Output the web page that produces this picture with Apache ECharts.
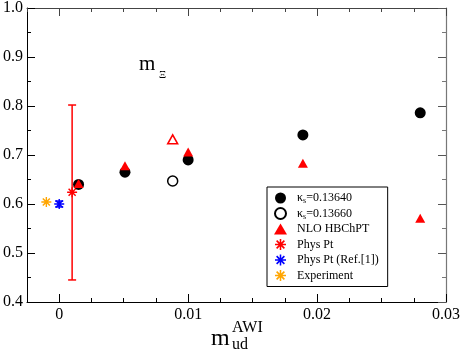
<!DOCTYPE html>
<html>
<head>
<meta charset="utf-8">
<title>m_Xi vs m_ud</title>
<script src="https://cdn.jsdelivr.net/npm/echarts@6/dist/echarts.min.js"></script>
<style>
  html, body { margin: 0; padding: 0; background: #fff; }
  #chart { width: 463px; height: 353px; }
</style>
</head>
<body>
<div id="chart"></div>
<script>
// data: [m_ud, m_Xi]
const kappa13640 = [[0.0015, 0.640], [0.0051, 0.665], [0.0100, 0.690], [0.0189, 0.741], [0.0280, 0.786]]
const kappa13660 = [[0.0088, 0.647]]
const nloFilled = [[0.0015, 0.642], [0.0051, 0.678], [0.0100, 0.706], [0.0189, 0.683], [0.0280, 0.571]]
const nloOpen = [[0.0088, 0.732]]
const physPt = [[0.0010, 0.624]]
const physPtErr = [[0.0010, 0.445, 0.802]] // x, low, high
const physPtRef = [[0.0, 0.600]]
const physPtRefErr = [[0.0, 0.594, 0.606]]
const experiment = [[-0.0010, 0.604]]
const xLabelValues = [0, 0.01, 0.02, 0.03]

const serif = '"Liberation Serif", "DejaVu Serif", serif'

// asterisk made of four filled bars
const starPath = 'path://M0 8.6L20 8.6L20 11.4L0 11.4Z M8.6 0L11.4 0L11.4 20L8.6 20Z ' +
  'M4 1.9L18.1 16L16 18.1L1.9 4Z M16 1.9L18.1 4L4 18.1L1.9 16Z'

const legendNames = {
  k1: '{t|κ}{s|s}{t|=0.13640}',
  k2: '{t|κ}{s|s}{t|=0.13660}'
}

// error bar with caps
function errorBar (color, capHalf, width) {
  return function (params, api) {
    const x = api.value(0)
    const lo = api.coord([x, api.value(1)])
    const hi = api.coord([x, api.value(2)])
    const style = { stroke: color, lineWidth: width }
    return {
      type: 'group',
      children: [
        { type: 'line', shape: { x1: lo[0], y1: lo[1], x2: hi[0], y2: hi[1] }, style: style },
        { type: 'line', shape: { x1: lo[0] - capHalf, y1: lo[1], x2: lo[0] + capHalf, y2: lo[1] }, style: style },
        { type: 'line', shape: { x1: hi[0] - capHalf, y1: hi[1], x2: hi[0] + capHalf, y2: hi[1] }, style: style }
      ]
    }
  }
}

const chart = echarts.init(document.getElementById('chart'))

const xBase = { type: 'value', min: -0.0025, max: 0.03 }
const yBase = { type: 'value', min: 0.4, max: 1.0, interval: 0.1 }

const option = {
  animation: false,
  backgroundColor: '#fff',
  grid: { left: 26, right: 16, top: 7, bottom: 51 },
  xAxis: [
    // minor ticks, bottom
    Object.assign({}, xBase, {
      position: 'bottom',
      interval: 0.0025,
      axisLine: { show: true, onZero: false, lineStyle: { color: '#000', width: 1 } },
      axisTick: { show: true, inside: true, length: 4, lineStyle: { color: '#000' } },
      axisLabel: { show: false },
      splitLine: { show: false }
    }),
    // major ticks + labels, bottom
    Object.assign({}, xBase, {
      position: 'bottom',
      axisLine: { show: false, onZero: false },
      axisTick: { show: true, inside: true, length: 8, customValues: xLabelValues, lineStyle: { color: '#000' } },
      axisLabel: {
        show: true, customValues: xLabelValues, margin: 5,
        fontFamily: serif, fontSize: 16, color: '#000',
        formatter: function (v) { return v === 0 ? '0' : String(+v.toFixed(2)) }
      },
      splitLine: { show: false }
    }),
    // top frame
    Object.assign({}, xBase, {
      position: 'top',
      interval: 0.0025,
      axisLine: { show: true, onZero: false, lineStyle: { color: '#444', width: 1 } },
      axisTick: { show: true, inside: true, length: 4, lineStyle: { color: '#444' } },
      axisLabel: { show: false },
      splitLine: { show: false }
    }),
    Object.assign({}, xBase, {
      position: 'top',
      axisLine: { show: false, onZero: false },
      axisTick: { show: true, inside: true, length: 8, customValues: xLabelValues, lineStyle: { color: '#444' } },
      axisLabel: { show: false },
      splitLine: { show: false }
    })
  ],
  yAxis: [
    Object.assign({}, yBase, {
      position: 'left',
      axisLine: { show: true, onZero: false, lineStyle: { color: '#000', width: 1 } },
      axisTick: { show: true, inside: true, length: 8, lineStyle: { color: '#000' } },
      minorTick: { show: true, splitNumber: 2, length: 4, lineStyle: { color: '#000' } },
      axisLabel: {
        margin: 4, fontFamily: serif, fontSize: 16, color: '#000',
        formatter: function (v) { return v.toFixed(1) }
      },
      splitLine: { show: false }
    }),
    Object.assign({}, yBase, {
      position: 'right',
      axisLine: { show: true, onZero: false, lineStyle: { color: '#777', width: 1.2 } },
      axisTick: { show: true, inside: true, length: 8, lineStyle: { color: '#555' } },
      minorTick: { show: true, splitNumber: 2, length: 4, lineStyle: { color: '#777' } },
      axisLabel: { show: false },
      splitLine: { show: false }
    })
  ],
  legend: {
    orient: 'vertical',
    left: 267,
    top: 187,
    padding: [4, 9, 4, 7],
    borderColor: '#000',
    borderWidth: 1,
    backgroundColor: '#fff',
    itemWidth: 13,
    itemHeight: 11,
    itemGap: 1.5,
    selectedMode: false,
    data: ['k1', 'k2', 'NLO HBChPT', 'Phys Pt', 'Phys Pt (Ref.[1])', 'Experiment'],
    formatter: function (name) { return legendNames[name] || '{t|' + name + '}' },
    textStyle: {
      fontFamily: serif,
      fontSize: 12,
      color: '#000',
      lineHeight: 14,
      height: 14,
      padding: [0, 0, 0, 5],
      rich: {
        t: { fontFamily: serif, fontSize: 12, color: '#000', lineHeight: 14 },
        s: { fontFamily: serif, fontSize: 8, color: '#000', lineHeight: 6, verticalAlign: 'bottom' }
      }
    }
  },
  graphic: [
    { type: 'text', x: 139, y: 64, style: { text: 'm', font: '21px ' + serif, fill: '#000', verticalAlign: 'middle' } },
    { type: 'text', x: 159, y: 75, style: { text: 'Ξ', font: '11px ' + serif, fill: '#000', verticalAlign: 'middle' } },
    { type: 'text', x: 211, y: 339, style: { text: 'm', font: '24px ' + serif, fill: '#000', verticalAlign: 'middle' } },
    { type: 'text', x: 232, y: 345, style: { text: 'ud', font: '16px ' + serif, fill: '#000', verticalAlign: 'middle' } },
    { type: 'text', x: 232, y: 328, style: { text: 'AWI', font: '16px ' + serif, fill: '#000', verticalAlign: 'middle' } }
  ],
  series: [
    {
      name: 'PhysPtErr',
      type: 'custom',
      renderItem: errorBar('#ff0000', 4, 1.5),
      encode: { x: 0, y: [1, 2] },
      data: physPtErr,
      z: 2
    },
    {
      name: 'PhysPtRefErr',
      type: 'custom',
      renderItem: errorBar('#0000ff', 4, 1.5),
      encode: { x: 0, y: [1, 2] },
      data: physPtRefErr,
      z: 2
    },
    {
      name: 'k1',
      type: 'scatter',
      symbol: 'circle',
      symbolSize: 11,
      itemStyle: { color: '#000', opacity: 1 },
      data: kappa13640,
      z: 3
    },
    {
      name: 'k2',
      type: 'scatter',
      symbol: 'circle',
      symbolSize: 10,
      itemStyle: { color: '#fff', borderColor: '#000', borderWidth: 1.5, opacity: 1 },
      data: kappa13660,
      z: 3
    },
    {
      name: 'NLO HBChPT',
      type: 'scatter',
      symbol: 'triangle',
      symbolSize: [10, 9],
      itemStyle: { color: '#ff0000', opacity: 1 },
      data: nloFilled,
      z: 4
    },
    {
      name: 'NLO open',
      type: 'scatter',
      symbol: 'triangle',
      symbolSize: [10, 9],
      itemStyle: { color: '#fff', borderColor: '#ff0000', borderWidth: 1.5, opacity: 1 },
      data: nloOpen,
      z: 4
    },
    {
      name: 'Phys Pt',
      type: 'scatter',
      symbol: starPath,
      symbolSize: 10,
      itemStyle: { color: '#ff0000', opacity: 1 },
      data: physPt,
      z: 5
    },
    {
      name: 'Phys Pt (Ref.[1])',
      type: 'scatter',
      symbol: starPath,
      symbolSize: 10,
      itemStyle: { color: '#0000ff', opacity: 1 },
      data: physPtRef,
      z: 5
    },
    {
      name: 'Experiment',
      type: 'scatter',
      symbol: starPath,
      symbolSize: 10,
      itemStyle: { color: '#ffa500', opacity: 1 },
      data: experiment,
      z: 5
    }
  ]
}

chart.setOption(option)
</script>
</body>
</html>
